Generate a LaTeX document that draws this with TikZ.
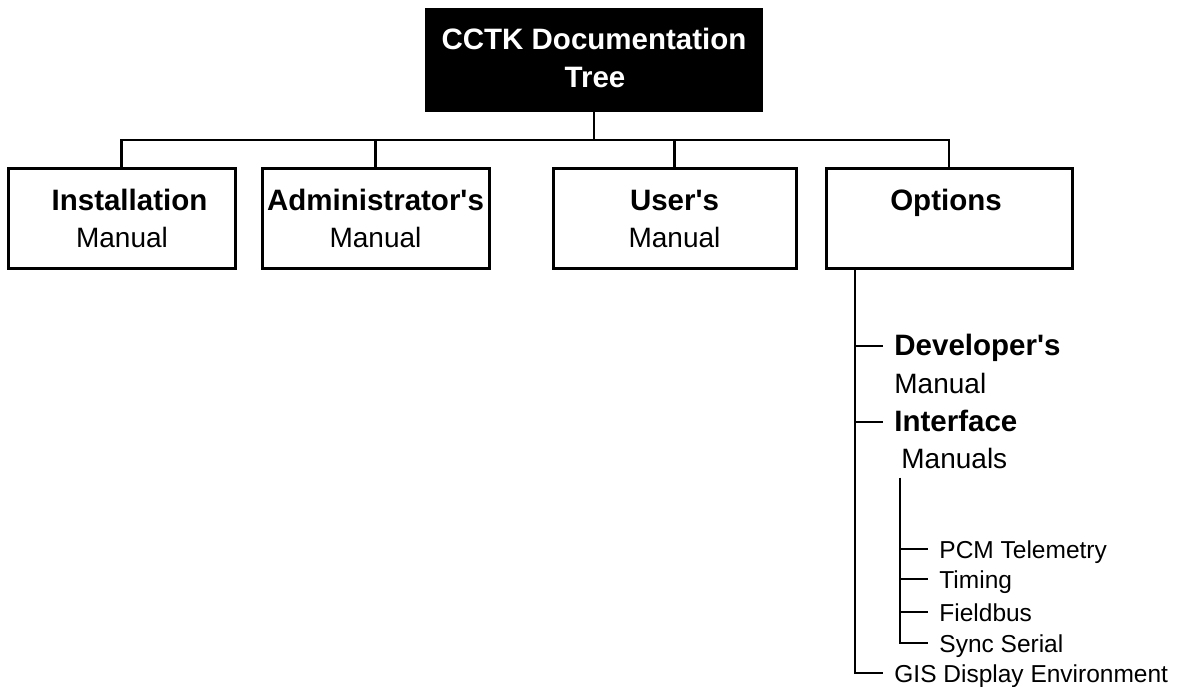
\documentclass[tikz,border=0pt]{standalone}
\usepackage{fontspec}
\setmainfont{Liberation Sans}
\newcommand\bigbold{\fontsize{29.5}{35}\selectfont\bfseries}
\newcommand\bigreg{\fontsize{28}{33}\selectfont}
\newcommand\smallreg{\fontsize{24.5}{29}\selectfont}
\newcommand\apos{\XeTeXglyph\XeTeXglyphindex "quotesingle"\relax}
\begin{document}
\begin{tikzpicture}[x=1pt,y=-1pt,line width=2.8pt,
  box/.style={draw,rectangle,line width=3pt,inner sep=0pt,minimum height=99pt},
  txt/.style={inner sep=0pt,anchor=base},
  ltxt/.style={inner sep=0pt,anchor=base west}]
\useasboundingbox (0,0) rectangle (1177,687);
% top box
\node[draw,fill=black,rectangle,inner sep=0pt,minimum width=336pt,minimum height=102pt] (top) at (594,60) {};
\node[txt,text=white] (t1) at (594,50) {\bigbold CCTK Documentation};
\node[txt,text=white] (t2) at (595,88) {\bigbold Tree};
% level boxes
\node[box,minimum width=227pt] (inst) at (121.5,218.5) {};
\node[box,minimum width=227pt] (adm) at (375.5,218.5) {};
\node[box,minimum width=243pt] (usr) at (674.5,218.5) {};
\node[box,minimum width=246pt] (opt) at (949,218.5) {};
\node[txt] (inst1) at (129.5,210) {\bigbold Installation};
\node[txt] (inst2) at (122,247) {\bigreg Manual};
\node[txt] (adm1) at (375.5,210) {\bigbold Administrator\apos s};
\node[txt] (adm2) at (375.5,247) {\bigreg Manual};
\node[txt] (usr1) at (674.5,210) {\bigbold User\apos s};
\node[txt] (usr2) at (674.5,247) {\bigreg Manual};
\node[txt] (opt1) at (946,210) {\bigbold Options};
% connectors top
\coordinate (hl) at (121.5,140);
\draw (top.south) -- (top.south |- hl);
\draw (inst.north) -- (inst.north |- hl) -| (opt.north);
\draw (adm.north) -- (adm.north |- hl);
\draw (usr.north) -- (usr.north |- hl);
% options subtree
\coordinate (ov) at (855,673);
\coordinate (devT) at (883,346);
\coordinate (intT) at (883,422);
\coordinate (gisT) at (883,673);
\draw (opt.south -| ov) -- (ov) -- (gisT);
\draw (devT -| ov) -- (devT);
\draw (intT -| ov) -- (intT);
\node[ltxt] (dev1) at (893,355) {\bigbold Developer\apos s};
\node[ltxt] (dev2) at (893,393) {\bigreg Manual};
\node[ltxt] (int1) at (893,431) {\bigbold Interface};
\node[ltxt] (int2) at (900,468) {\bigreg Manuals};
\node[ltxt] (gis) at (893,682) {\smallreg GIS Display Environment};
% interface subtree
\coordinate (sv) at (900,643);
\coordinate (pcmT) at (928,549);
\coordinate (timT) at (928,579);
\coordinate (fbT) at (928,612);
\coordinate (ssT) at (928,643);
\draw (int2.south west -| sv) ++(0,8) -- (sv) -- (ssT);
\draw (pcmT -| sv) -- (pcmT);
\draw (timT -| sv) -- (timT);
\draw (fbT -| sv) -- (fbT);
\node[ltxt] (pcm) at (938,558) {\smallreg PCM Telemetry};
\node[ltxt] (tim) at (938,588) {\smallreg Timing};
\node[ltxt] (fb) at (938,621) {\smallreg Fieldbus};
\node[ltxt] (ss) at (938,652) {\smallreg Sync Serial};
\end{tikzpicture}
\end{document}
